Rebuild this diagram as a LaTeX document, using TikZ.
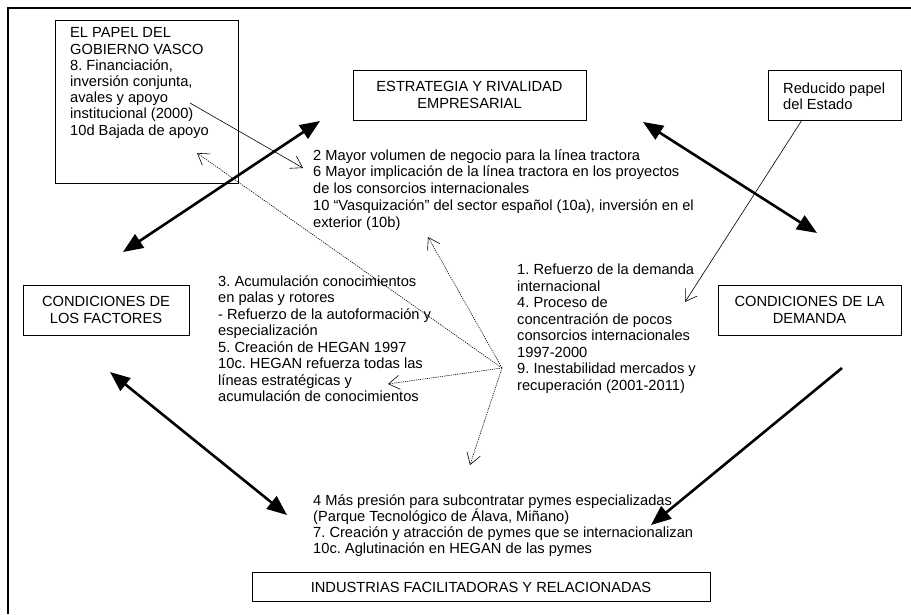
\documentclass[tikz,border=0pt]{standalone}
\usepackage{fontspec}
\setmainfont{Liberation Sans}
\usetikzlibrary{arrows.meta}
\frenchspacing
\tikzset{
  bigtip/.tip={Triangle[length=20pt,width=16pt]},
  opentip/.tip={Straight Barb[length=11pt,width=14pt]},
  frameline/.style={line width=1.4pt},
  box/.style={draw, line width=0.9pt, inner sep=0pt},
  boxtext/.style={align=center, font=\fontsize{14.67}{16.3}\selectfont},
  txt/.style={anchor=north west, inner sep=0pt, align=left,
              font=\fontsize{14.67}{16.5}\selectfont},
  heavy/.style={line width=2.6pt},
  thin/.style={line width=0.6pt},
  dots/.style={line width=0.6pt, dash pattern=on 1.2pt off 1pt},
}
\begin{document}
\begin{tikzpicture}[x=1pt,y=-1pt]
\useasboundingbox (0,0) rectangle (911,614);

% open outer frame: top and left edges only
\coordinate (fr-tr) at (911,8);
\coordinate (fr-tl) at (8,8);
\coordinate (fr-bl) at (8,614);
\draw[frameline] (fr-tr) -- (fr-tl) -- (fr-bl);

% boxes
\node[box, minimum width=183pt, minimum height=163pt] (papel) at (146.5,101.5) {};
\node[txt, font=\fontsize{14.67}{16.2}\selectfont] (papeltxt) at (70,27.7)
  {EL PAPEL DEL\\GOBIERNO VASCO\\8. Financiación,\\inversión conjunta,\\avales y apoyo\\institucional (2000)\\10d Bajada de apoyo};

\node[box, boxtext, minimum width=233pt, minimum height=50pt] (estr) at (469.5,95)
  {ESTRATEGIA Y RIVALIDAD\\EMPRESARIAL};

\node[box, minimum width=133pt, minimum height=50pt] (red) at (834.5,95) {};
\node[txt, font=\fontsize{14.67}{16}\selectfont] (redtxt) at (783,82.7) {Reducido papel\\del Estado};

\node[box, boxtext, minimum width=166pt, minimum height=50pt] (fac) at (106,310)
  {CONDICIONES DE\\LOS FACTORES};

\node[box, boxtext, minimum width=183pt, minimum height=50pt] (dem) at (809.5,310)
  {CONDICIONES DE LA\\DEMANDA};

\node[box, boxtext, minimum width=458pt, minimum height=29pt] (ind) at (481,587)
  {INDUSTRIAS FACILITADORAS Y RELACIONADAS};

% text blocks
\node[txt, font=\fontsize{14.67}{16.7}\selectfont] (strtxt) at (313,149.2)
  {2 Mayor volumen de negocio para la línea tractora\\6 Mayor implicación de la línea tractora en los proyectos\\de los consorcios internacionales\\10 “Vasquización” del sector español (10a), inversión en el\\exterior (10b)};

\node[txt] (factxt) at (218,275)
  {3. Acumulación conocimientos\\en palas y rotores\\- Refuerzo de la autoformación y\\especialización\\5. Creación de HEGAN 1997\\10c. HEGAN refuerza todas las\\líneas estratégicas y\\acumulación de conocimientos};

\node[txt] (demtxt) at (517,264)
  {1. Refuerzo de la demanda\\internacional\\4. Proceso de\\concentración de pocos\\consorcios internacionales\\1997-2000\\9. Inestabilidad mercados y\\recuperación (2001-2011)};

\node[txt, font=\fontsize{14.67}{15.8}\selectfont] (indtxt) at (313,494.7)
  {4 Más presión para subcontratar pymes especializadas\\(Parque Tecnológico de Álava, Miñano)\\7. Creación y atracción de pymes que se internacionalizan\\10c. Aglutinación en HEGAN de las pymes};

% heavy connectors between the four corners of the diamond
\coordinate (fac-up) at (123,252);
\coordinate (estr-left) at (320,121);
\coordinate (estr-right) at (643,122);
\coordinate (dem-up) at (817,233);
\coordinate (fac-down) at (110,372);
\coordinate (ind-left) at (287,515);
\coordinate (dem-down) at (842,368);
\coordinate (ind-right) at (651,525);
\draw[heavy, bigtip-bigtip] (fac-up) -- (estr-left);
\draw[heavy, bigtip-bigtip] (estr-right) -- (dem-up);
\draw[heavy, bigtip-bigtip] (fac-down) -- (ind-left);
\draw[heavy, -bigtip] (dem-down) -- (ind-right);

% thin solid influences
\coordinate (papel-src) at (190,103);
\coordinate (strtxt-in) at (303,168);
\coordinate (red-src) at (802,120);
\coordinate (demtxt-in) at (685,302);
\draw[thin, -opentip] (papel-src) -- (strtxt-in);
\draw[thin, -opentip] (red-src) -- (demtxt-in);

% dotted fan from the demand block
\coordinate (hub) at (502,368);
\coordinate (papel-in) at (197,153);
\coordinate (strtxt-low) at (428,237);
\coordinate (factxt-in) at (388,384);
\coordinate (indtxt-in) at (470,465);
\draw[dots, -opentip] (hub) -- (papel-in);
\draw[dots, -opentip] (hub) -- (strtxt-low);
\draw[dots, -opentip] (hub) -- (factxt-in);
\draw[dots, -opentip] (hub) -- (indtxt-in);
\end{tikzpicture}
\end{document}
